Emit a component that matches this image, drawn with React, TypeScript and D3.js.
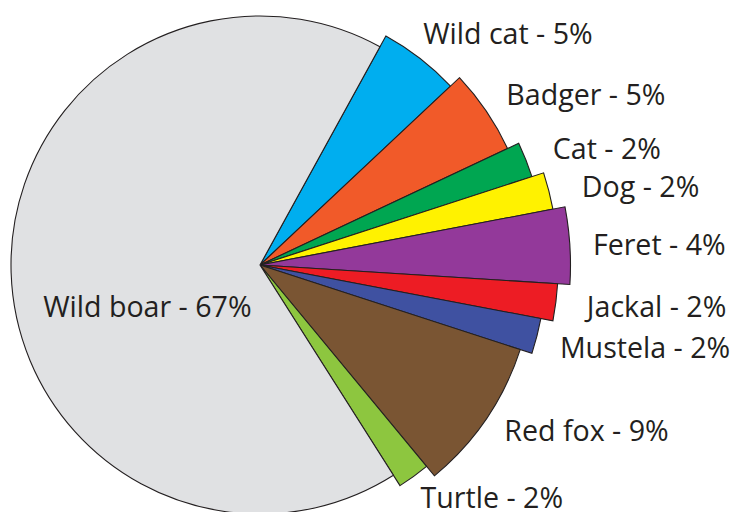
import React from "react";
import * as d3 from "d3";

// ---- data ----
const categories = ["Wild cat", "Badger", "Cat", "Dog", "Feret", "Jackal", "Mustela", "Red fox", "Turtle", "Wild boar"];
const percentages = [5, 5, 2, 2, 4, 2, 2, 9, 2, 67];
const colors = ["#00aeef", "#f15a29", "#00a651", "#fff200", "#93399a", "#ed1c24", "#3f51a1", "#7a5533", "#8dc63f", "#e0e1e3"];
// radius step level of each exploded slice (presentation)
const radiusLevels = [1, 2, 3, 4, 5, 4, 3, 2, 1, 0];
// label offsets from the outer mid-point of each slice (presentation)
const labelDx = [3, 20, 27, 33, 23, 31, 23, 18, 7, 32];
const labelDy = [-15, -6, -1, 6, 9.5, 15, 22, 22, 31.5, 44];

const W = 734;
const H = 512;
const cx = 260;
const cy = 265;
const baseR = 249;
const stepR = 12.3;

export default function App() {
  const data = categories.map((c, i) => ({ name: c, value: percentages[i], i }));
  const pie = d3
    .pie<any>()
    .sort(null)
    .value((d: any) => d.value)
    .startAngle(2 * Math.PI * 0.08)
    .endAngle(2 * Math.PI * 1.08);
  const arcs = pie(data);
  const rScale = d3.scaleLinear().domain([0, 1]).range([baseR, baseR + stepR]);

  return (
    <svg
      width={W}
      height={H}
      style={{ position: "absolute", left: 0, top: 0, background: "#fff" }}
      fontFamily="'Open Sans', sans-serif"
    >
      <g transform={`translate(${cx},${cy})`}>
        {arcs.map((a, k) => {
          const R = rScale(radiusLevels[a.data.i]);
          const path = d3.arc<any>().innerRadius(0).outerRadius(R)(a) as string;
          return (
            <path key={k} d={path} fill={colors[a.data.i]} stroke="#231f20" strokeWidth={1.1} strokeLinejoin="miter" />
          );
        })}
        {arcs.map((a, k) => {
          const i = a.data.i;
          const R = rScale(radiusLevels[i]);
          const mid = (a.startAngle + a.endAngle) / 2;
          const x = R * Math.sin(mid) + labelDx[i];
          const y = -R * Math.cos(mid) + labelDy[i];
          return (
            <text key={"t" + k} x={x} y={y} fontSize={28.6} fill="#231f20">
              {`${a.data.name} - ${a.data.value}%`}
            </text>
          );
        })}
      </g>
    </svg>
  );
}
